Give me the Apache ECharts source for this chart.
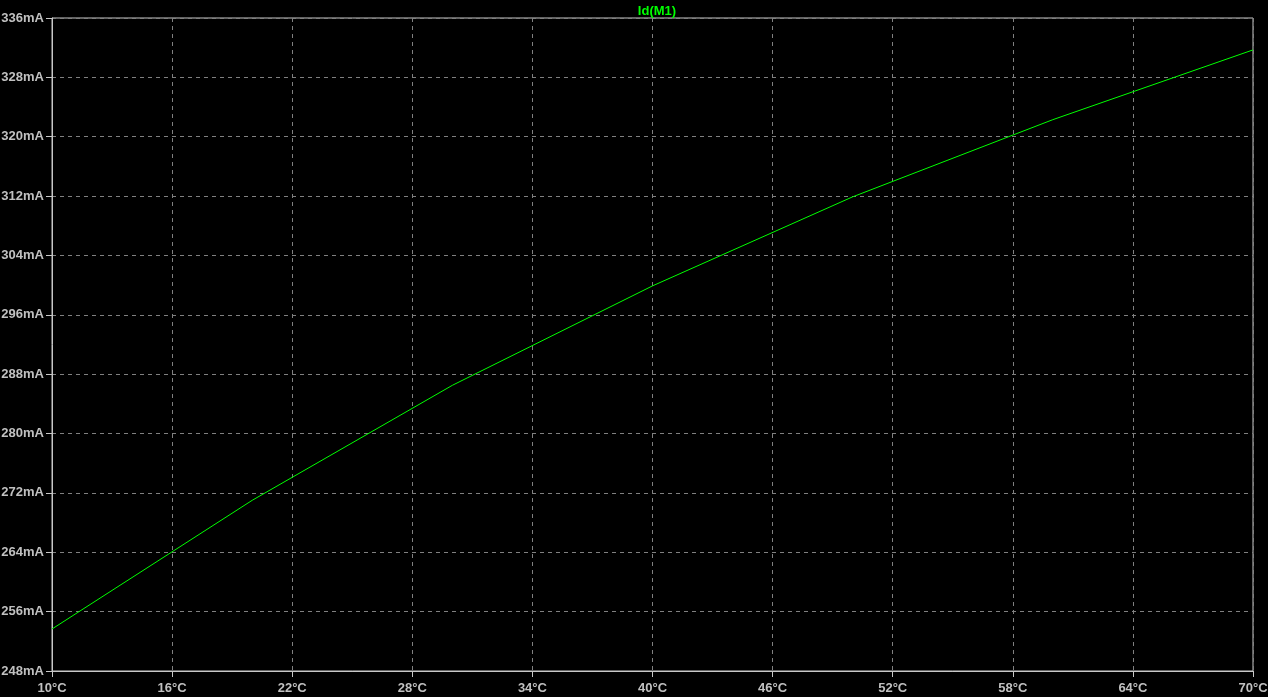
<!DOCTYPE html>
<html>
<head>
<meta charset="utf-8">
<script src="https://cdn.jsdelivr.net/npm/echarts@6/dist/echarts.min.js"></script>
<style>
html,body{margin:0;padding:0;background:#000;}
#c{width:1268px;height:697px;}
</style>
</head>
<body>
<div id="c"></div>
<script>
const temperatures = [10, 20, 30, 40, 50, 60, 70];
const currentMA = [253.66, 271.0, 286.5, 299.9, 311.9, 322.3, 331.7];
const seriesName = 'Id(M1)';
const yTicks = {min: 248, max: 336, step: 8};
const xTicks = {min: 10, max: 70, step: 6};

const chart = echarts.init(document.getElementById('c'));
const labelStyle = {color: '#c0c0c0', fontFamily: 'Liberation Sans', fontWeight: 'bold', fontSize: 13};
chart.setOption({
  backgroundColor: '#000',
  animation: false,
  title: {
    text: seriesName, left: 652, top: 0, textAlign: 'center',
    textStyle: {color: '#00ff00', fontFamily: 'Liberation Sans', fontWeight: 'bold', fontSize: 13}
  },
  grid: {left: 52, right: 15, top: 18, bottom: 26, show: true, borderColor: '#c8c8c8', borderWidth: 1,
         containLabel: false, outerBoundsMode: 'none'},
  xAxis: {
    type: 'value', min: xTicks.min, max: xTicks.max, interval: xTicks.step,
    axisLine: {show: true, lineStyle: {color: '#c8c8c8', width: 1}},
    axisTick: {show: true, length: 6, lineStyle: {color: '#c8c8c8'}},
    axisLabel: Object.assign({margin: 11, formatter: v => v + '°C'}, labelStyle),
    splitLine: {show: true, lineStyle: {color: '#808080', type: [4, 4], width: 1}}
  },
  yAxis: {
    type: 'value', min: yTicks.min, max: yTicks.max, interval: yTicks.step,
    axisLine: {show: true, lineStyle: {color: '#c8c8c8', width: 1}},
    axisTick: {show: true, length: 6, lineStyle: {color: '#c8c8c8'}},
    axisLabel: Object.assign({margin: 8, formatter: v => v + 'mA'}, labelStyle),
    splitLine: {show: true, lineStyle: {color: '#808080', type: [4, 4], width: 1}}
  },
  series: [{
    name: seriesName, type: 'line', symbol: 'none',
    data: temperatures.map((t, i) => [t, currentMA[i]]),
    lineStyle: {color: '#00ff00', width: 1}
  }]
});
</script>
</body>
</html>
